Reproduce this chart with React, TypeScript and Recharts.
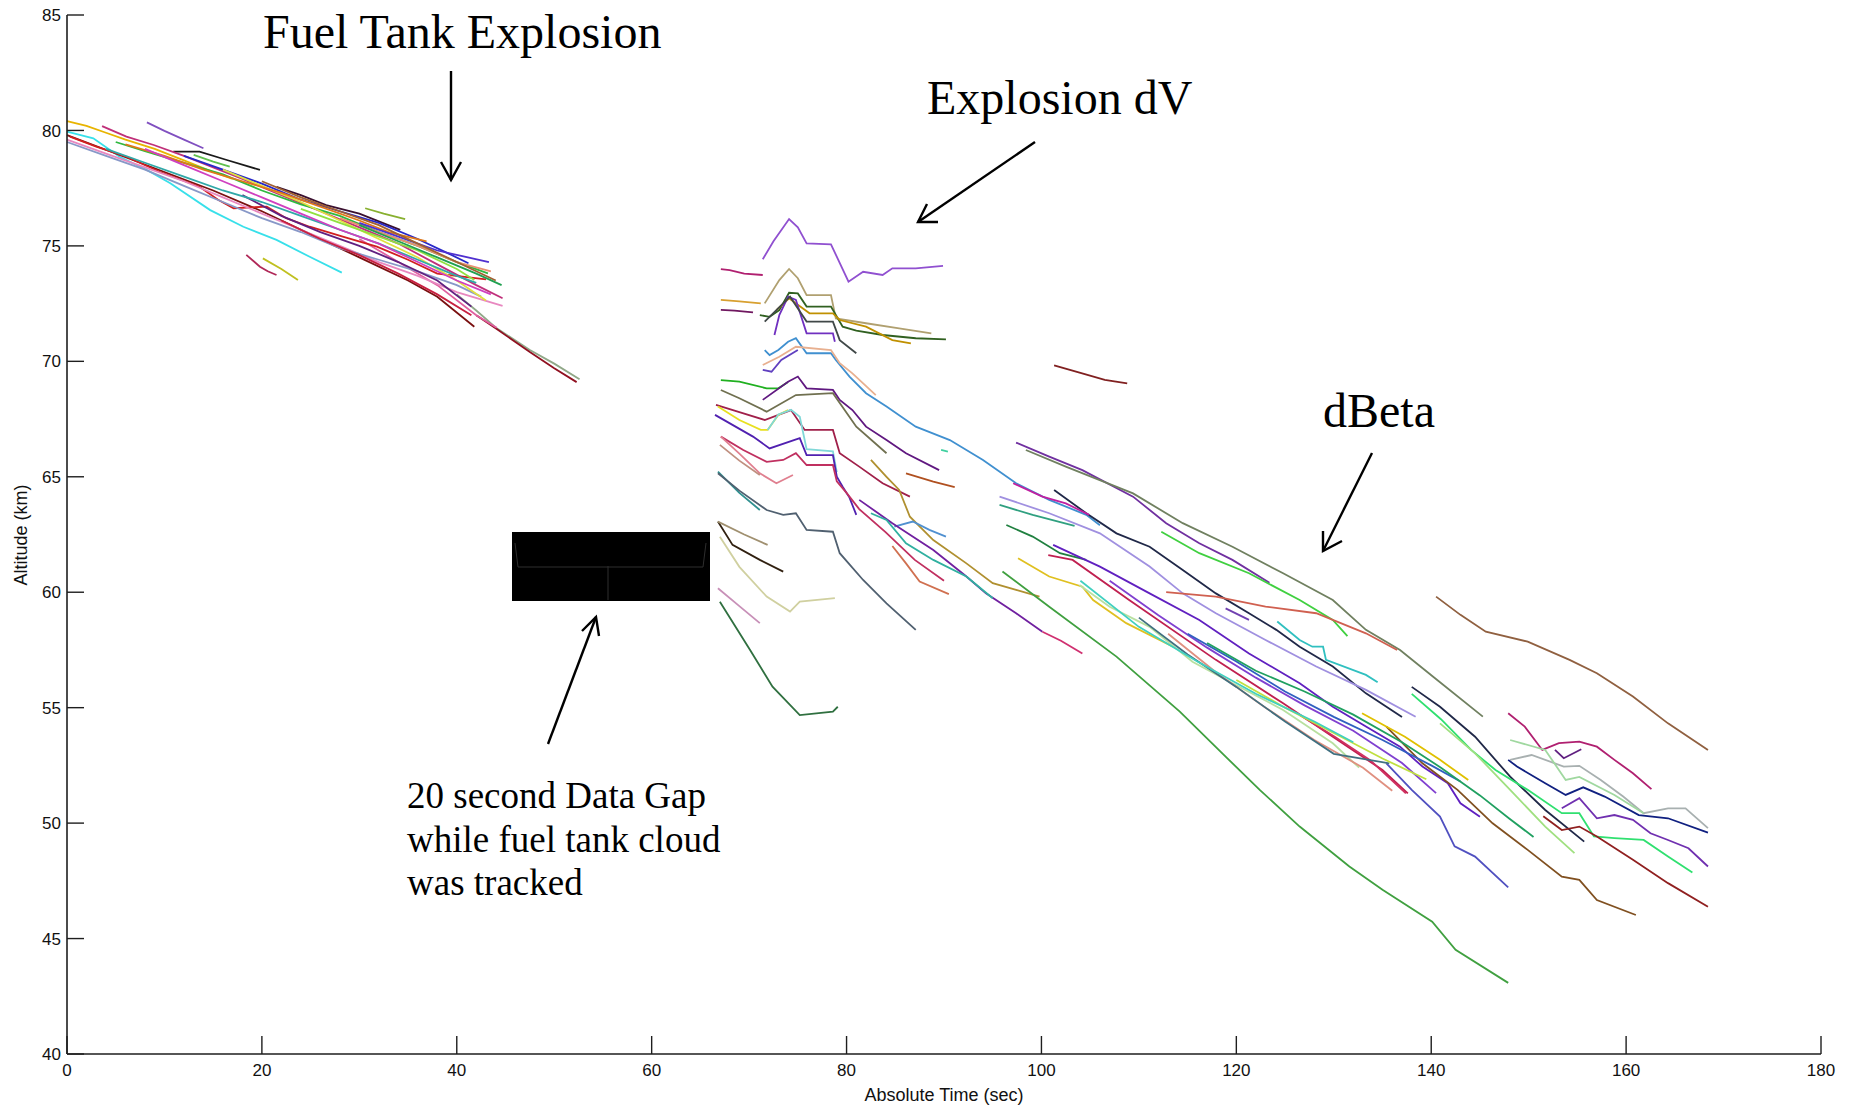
import React from 'react'
import { LineChart, Line, XAxis, YAxis } from 'recharts'

// tick values
const xTicks = [0, 20, 40, 60, 80, 100, 120, 140, 160, 180]
const yTicks = [40, 45, 50, 55, 60, 65, 70, 75, 80, 85]

// tracks before the fuel tank explosion, [time (s), altitude (km)]
const preGapTracks: number[][][] = [
  [[0, 80.4], [2, 80.2], [4, 79.9], [6, 79.6], [9, 79.2], [12, 78.7], [15, 78.2], [17, 77.9]],
  [[0, 79.95], [2.7, 79.66], [5.4, 78.86], [8.2, 78.29], [10.6, 77.71], [14.7, 76.55], [18.1, 75.83], [21.5, 75.26], [24.9, 74.53], [28.2, 73.84]],
  [[0, 79.8], [5, 79.0], [10, 78.2], [15, 77.4], [20, 76.5], [25, 75.5], [30, 74.5], [35, 73.5], [38, 72.8], [41.8, 71.5]],
  [[40, 72.9], [42, 72.2], [44.1, 71.43], [47.5, 70.49], [50, 69.9], [52.6, 69.22]],
  [[42, 72.0], [44.1, 71.4], [47.5, 70.4], [50, 69.7], [52.3, 69.1]],
  [[30, 75.3], [34, 74.3], [38, 73.3], [42, 72.0], [44.1, 71.45]],
  [[8.2, 80.35], [10, 79.98], [12, 79.6], [14.0, 79.23]],
  [[10.9, 79.08], [13.6, 79.08], [16.4, 78.72], [19.8, 78.29]],
  [[13.0, 78.94], [15, 78.65], [16.7, 78.43]],
  [[3.6, 80.19], [6.1, 79.73], [8.9, 79.37], [12, 78.9], [15, 78.4], [18, 77.9], [22, 77.2], [26, 76.5], [30, 75.8], [34, 75.1], [38, 74.2], [42, 73.3], [44.7, 72.73]],
  [[21.5, 77.56], [24, 77.2], [26.6, 76.77], [30, 76.4], [34.2, 75.69]],
  [[30.6, 76.63], [32.5, 76.4], [34.7, 76.16]],
  [[18.4, 74.61], [19.8, 74.1], [20.6, 73.9], [21.5, 73.74]],
  [[20.1, 74.46], [22, 74.0], [23.7, 73.52]],
  [[0.3, 79.73], [3, 79.3], [6.1, 78.86], [9.5, 78.21], [13.6, 77.56], [15.5, 77.0], [17.1, 76.63], [20.5, 76.7], [22.5, 76.2], [24.9, 75.83], [28.3, 75.4], [31.8, 74.97], [35, 74.4], [38, 73.8], [43.0, 73.55]],
  [[12, 78.9], [16, 78.3], [20, 77.7], [24, 77.0], [28, 76.5], [32, 76.0], [36, 75.3], [39, 74.7], [41.2, 74.25]],
  [[5, 79.5], [8, 79.1], [12, 78.6], [16, 78.1], [20, 77.4], [24, 76.8], [28, 76.3], [32, 75.6], [36, 75.0], [40, 74.3], [43.2, 73.81]],
  [[0, 79.6], [4, 79.0], [8, 78.4], [12, 77.8], [16, 77.1], [20, 76.4], [24, 75.7], [28, 75.0], [32, 74.3], [36, 73.7], [40, 73.0], [44.7, 72.4]],
  [[0, 79.5], [4, 78.9], [8, 78.3], [12, 77.6], [16, 76.9], [20, 76.2], [24, 75.6], [28, 74.9], [32, 74.4], [36, 73.9], [40, 73.3], [42.5, 72.8]],
  [[16, 78.3], [20, 77.6], [24, 76.9], [28, 76.1], [32, 75.3], [36, 74.5], [40, 73.5], [43.0, 72.63]],
  [[18, 77.2], [22, 76.3], [26, 75.6], [30, 75.0], [34, 74.3], [38, 73.5], [41.5, 72.37]],
  [[22, 76.1], [26, 75.3], [30, 74.6], [34, 73.8], [38, 72.9], [41.5, 72.0]],
  [[6, 79.4], [10, 78.9], [14, 78.3], [18, 77.8], [22, 77.3], [26, 76.7], [30, 76.1], [33, 75.6], [36.9, 75.2]],
  [[4, 79.2], [8, 78.6], [12, 78.0], [16, 77.4], [20, 76.9], [24, 76.3], [28, 75.7], [32, 75.1], [36, 74.4], [40, 73.7], [42, 73.4]],
  [[8, 79.2], [12, 78.5], [16, 77.8], [20, 77.1], [24, 76.4], [28, 75.7], [32, 75.1], [36, 74.3], [40, 73.5], [43.5, 72.9]],
  [[24, 76.6], [28, 76.0], [32, 75.4], [36, 74.8], [40, 74.0], [41.8, 73.52]],
  [[28, 76.2], [32, 75.6], [36, 75.0], [40, 74.3], [43.5, 73.9]],
  [[30, 76.0], [34, 75.4], [38, 74.8], [43.3, 74.3]],
  [[20, 77.8], [24, 77.1], [28, 76.5], [32, 75.9], [36, 75.1], [40, 74.3], [44, 73.5]],
  [[30, 75.9], [34, 75.2], [38, 74.5], [42, 73.8], [44.6, 73.3]],
]
const preGapColors = [
  '#e8b400', '#38e0ea', '#7a1010', '#90a888', '#901020', '#e060a0', '#8050c0', '#1a1a1a', '#60c050', '#c0307a',
  '#3a1030', '#88b030', '#b02858', '#c0c020', '#d02020', '#2828c8', '#30b840', '#e888c0', '#8898c8', '#e0e040',
  '#602080', '#c82040', '#e07818', '#30a8a8', '#d040c0', '#90e040', '#e89070', '#5030d0', '#a06030', '#20a050',
]

// tracks picked up again after the data gap, around the explosion dV
const explosionTracks: number[][][] = [
  [[71.4, 74.42], [72.5, 75.2], [74.1, 76.16], [75.0, 75.8], [75.9, 75.11], [78.4, 75.07], [80.2, 73.45], [81.7, 73.88], [83.7, 73.74], [84.7, 74.03], [87.1, 74.03], [89.9, 74.13]],
  [[67.1, 73.99], [68, 73.95], [69.5, 73.8], [71.4, 73.74]],
  [[71.6, 72.51], [73.1, 73.52], [74.1, 74.0], [75.0, 73.6], [75.9, 72.87], [78.4, 72.87], [78.9, 71.86], [82.0, 71.65], [85.4, 71.43], [88.7, 71.21]],
  [[67.1, 72.66], [69, 72.6], [71.2, 72.51]],
  [[67.1, 72.23], [68.5, 72.2], [70.4, 72.12]],
  [[71.1, 72.0], [72.1, 71.93], [73.1, 72.22], [74.1, 72.97], [75.0, 72.94], [75.9, 72.37], [78.4, 72.37], [79.6, 71.5], [81.0, 71.33], [83.7, 71.14], [87.1, 71.0], [90.2, 70.95]],
  [[72.8, 72.22], [74.1, 72.73], [76.2, 72.08], [78.6, 72.08], [79.3, 71.79], [82.0, 71.5], [84.7, 70.92], [86.6, 70.78]],
  [[72.6, 71.14], [73.1, 72.0], [74.0, 72.8], [74.8, 72.66], [75.9, 71.21], [78.6, 71.21], [78.8, 70.85]],
  [[71.6, 71.72], [74.2, 72.8], [75.9, 71.72], [78.6, 71.72], [79.3, 70.92], [81.0, 70.35]],
  [[71.6, 70.49], [72.1, 70.27], [73.0, 70.49], [74.0, 70.85], [74.8, 71.0], [75.9, 70.35], [78.4, 70.35], [78.9, 70.06], [80.3, 69.34], [82.0, 68.62], [84.1, 68.04], [87.1, 67.17], [90.6, 66.59], [94.0, 65.73], [97.4, 64.72], [100.8, 64.0], [104.6, 63.35], [106, 62.9]],
  [[71.4, 69.84], [73.1, 70.2], [74.8, 70.63], [78.4, 70.49], [79.3, 69.92], [80.6, 69.48], [83.0, 68.54]],
  [[71.4, 69.63], [72.3, 69.55], [73.3, 70.06], [75.0, 70.49]],
  [[67.1, 69.19], [69.0, 69.12], [71.8, 68.83], [73.0, 68.83], [74.0, 69.1]],
  [[71.4, 68.33], [74.0, 69.12], [75.0, 69.34], [75.9, 68.83], [78.6, 68.76], [79.3, 68.33], [80.6, 67.89], [82.0, 67.17], [84.1, 66.59], [86.1, 66.02], [89.5, 65.29]],
  [[67.1, 68.76], [69.0, 68.4], [71.8, 67.82], [74.8, 68.54], [78.6, 68.62], [81.0, 67.17], [84.1, 66.02]],
  [[66.6, 68.11], [69, 67.8], [71.6, 67.46], [74.3, 67.89], [75.7, 67.03], [78.6, 67.03], [79.3, 66.02], [81.3, 65.44], [83.7, 64.72], [86.5, 64.14]],
  [[66.8, 68.04], [69.0, 67.46], [71.2, 67.03], [71.9, 67.03], [73.0, 67.68], [74.0, 67.89]],
  [[71.9, 67.03], [73.0, 67.7], [74.3, 67.9], [75.2, 67.6], [75.9, 66.2], [78.6, 66.1], [79.0, 65.2]],
  [[66.5, 67.68], [70.4, 66.74], [72.1, 66.23], [75.2, 66.67], [75.9, 65.94], [78.6, 65.94], [79.0, 65.0], [79.6, 64.57], [80.3, 64.1], [81.0, 63.35]],
  [[67.1, 66.74], [69.4, 66.16], [71.8, 65.65], [73.5, 65.73], [74.8, 66.02], [75.9, 65.51], [78.6, 65.51], [79.0, 64.8], [80, 64.3], [81.3, 63.6], [84, 62.6], [87, 61.4], [90, 60.5]],
  [[67.1, 66.74], [69, 66.0], [71.1, 65.15], [72.8, 64.72], [74.5, 65.08]],
  [[67.0, 66.38], [69, 65.7], [71.1, 65.08]],
  [[66.8, 65.22], [69, 64.3], [71.1, 63.56]],
  [[66.8, 65.15], [69, 64.4], [71.8, 63.56], [73.5, 63.35], [74.8, 63.42], [75.9, 62.7], [78.6, 62.62], [79.3, 61.69], [81.7, 60.53], [84.1, 59.52], [87.1, 58.37]],
  [[66.8, 63.06], [68.3, 62.05], [71.1, 61.4], [73.5, 60.89]],
  [[66.8, 63.06], [69.5, 62.5], [71.9, 62.05]],
  [[67.0, 62.4], [69.0, 61.1], [71.8, 59.81], [74.2, 59.16], [75.2, 59.59], [78.8, 59.74]],
  [[66.8, 60.17], [69, 59.4], [71.1, 58.66]],
  [[67.0, 59.59], [70.1, 57.5], [72.4, 55.91], [75.2, 54.68], [78.6, 54.83], [79.1, 55.04]],
  [[86.1, 65.15], [88.9, 64.79], [91.1, 64.55]],
  [[82.5, 65.73], [84.1, 65.0], [85.4, 64.43], [86.5, 63.27], [88.9, 62.26], [92.3, 61.25], [95.0, 60.39], [97.4, 60.1], [99.8, 59.81]],
  [[84.9, 62.84], [86.8, 63.06], [88.5, 62.7], [90.2, 62.41]],
  [[81.3, 64.0], [84.7, 62.99], [88.9, 61.83], [92.3, 60.68], [94.3, 59.95], [97.4, 59.09], [100.1, 58.29]],
  [[100.1, 58.29], [102, 57.9], [104.2, 57.35]],
  [[82.5, 63.42], [84.1, 63.13], [86.1, 62.12], [88.9, 61.4], [92.3, 60.68], [95.0, 59.74]],
  [[84.7, 62.0], [86.1, 61.25], [87.5, 60.46], [90.5, 59.92]],
  [[89.7, 66.16], [90.4, 66.09]],
  [[101.3, 69.82], [104, 69.5], [106.5, 69.2], [108.8, 69.05]],
]
const explosionColors = [
  '#9050d0', '#b02070', '#b0a070', '#d8a030', '#701860', '#306020', '#c09000', '#7030c0', '#404848', '#4090d0',
  '#e8b090', '#6040c0', '#20b020', '#601880', '#707050', '#a0204a', '#e8e020', '#80d8d8', '#5020b0', '#c03060',
  '#e08090', '#c09080', '#309090', '#506070', '#302010', '#a09070', '#d0d0a0', '#c890b8', '#307040', '#b05020',
  '#b09030', '#5090d0', '#7020a0', '#d03070', '#30b0a0', '#d07050', '#40d0a0', '#802020',
]

// later descent tracks (dBeta)
const descentTracks: number[][][] = [
  [[97.4, 66.48], [100.8, 65.87], [104.2, 65.29], [109.4, 64.14], [112.8, 62.99], [116.2, 62.12], [119.6, 61.4], [123.4, 60.41]],
  [[98.4, 66.16], [102.5, 65.44], [109.4, 64.28], [114.5, 62.99], [119.6, 61.97], [124.8, 60.82], [129.9, 59.66], [133.3, 58.37], [136.8, 57.5], [140.2, 56.34], [145.3, 54.61]],
  [[101.3, 64.43], [104.6, 63.42], [107.7, 62.55], [111.1, 61.97], [114.5, 60.96], [117.9, 59.95], [121.3, 59.09], [124.1, 58.37], [126.5, 57.64], [129.9, 56.78], [133.3, 55.62], [137, 54.6]],
  [[138, 55.9], [140.9, 55.04], [144.5, 53.74], [148.1, 52.01], [151.7, 50.57], [155.7, 49.2]],
  [[97.1, 64.72], [100.1, 64.14], [102.5, 63.85], [104.9, 63.35]],
  [[95.7, 64.14], [100.8, 63.42], [106.0, 62.55], [111.1, 61.11], [114.5, 59.95], [117.9, 59.09], [123.0, 57.93], [128.2, 56.78], [133.3, 55.77], [138.4, 54.61]],
  [[95.7, 63.78], [99.1, 63.35], [103.4, 62.87]],
  [[96.4, 62.91], [99.1, 62.41], [101.9, 61.69], [104.6, 61.4]],
  [[101.2, 62.05], [106.0, 61.11], [111.1, 59.95], [116.2, 58.8], [121.3, 57.35], [126.5, 56.06], [129.9, 55.04], [133.3, 54.18], [136.8, 53.31], [139.1, 52.45], [141.7, 51.73], [143.0, 50.86], [145.0, 50.28]],
  [[100.7, 61.61], [103.2, 61.4], [109.0, 59.66], [117.9, 57.07], [124.8, 55.19], [129.9, 53.74], [135.0, 52.3], [137.6, 51.29]],
  [[135.4, 52.59], [138.0, 51.44], [140.9, 50.28], [142.4, 48.99], [144.5, 48.55], [147.9, 47.22]],
  [[97.6, 61.47], [100.8, 60.68], [104.2, 60.24], [105.3, 59.66], [108.7, 58.66], [113.5, 57.64]],
  [[96.0, 60.9], [100.8, 59.37], [107.7, 57.21], [114.2, 54.83], [118.9, 52.88], [122.4, 51.44], [126.5, 49.85], [131.6, 48.12], [135.0, 47.11], [140.1, 45.73], [142.5, 44.51], [147.9, 43.08]],
  [[103.9, 60.31], [107.0, 59.37], [111.1, 58.5], [115.5, 56.99], [119.6, 56.06], [124.8, 54.9], [129.9, 53.46], [132.6, 52.4]],
  [[112.3, 62.62], [116.2, 61.69], [121.3, 60.82], [126.5, 59.66], [129.9, 58.8], [131.4, 58.1]],
  [[112.8, 60.0], [117.9, 59.81], [123.0, 59.38], [128.2, 59.09], [133.3, 58.22], [136.5, 57.5]],
  [[118.9, 59.3], [121.3, 58.8]],
  [[124.2, 58.73], [126.5, 57.93], [127.8, 57.64], [128.9, 57.64], [129.2, 57.07], [133.3, 56.42], [134.5, 56.1]],
  [[140.5, 59.81], [143.0, 59.02], [145.6, 58.29], [149.9, 57.86], [154.2, 57.07], [157.0, 56.49], [160.7, 55.48], [164.3, 54.32], [168.4, 53.17]],
  [[147.9, 54.76], [149.6, 54.18], [151.4, 53.17], [153.1, 53.46], [155.2, 53.53], [157.0, 53.31], [158.8, 52.74], [160.7, 52.16], [162.6, 51.47]],
  [[152.7, 53.17], [153.6, 52.81], [155.4, 53.2]],
  [[148.1, 52.74], [150.3, 52.95], [153.6, 52.45], [155.2, 52.48], [157.4, 51.87], [159.7, 51.15], [161.8, 50.43], [164.3, 50.64], [166.1, 50.64], [168.4, 49.78]],
  [[148.1, 53.6], [151.7, 53.17], [153.8, 51.87], [155.2, 52.0], [158.8, 51.22], [161.8, 50.43]],
  [[147.9, 52.74], [148.8, 52.45], [151.7, 51.73], [153.8, 51.22], [155.6, 51.55], [157.8, 51.15], [161.3, 50.35], [164.3, 50.21], [168.4, 49.59]],
  [[153.4, 50.64], [155.2, 51.08], [157.0, 50.21], [158.8, 50.35], [160.7, 50.14], [162.5, 49.56], [164.3, 49.27], [166.4, 48.91], [168.4, 48.12]],
  [[138, 55.6], [141, 54.5], [144.1, 53.17], [146.6, 52.3], [149.9, 51.44], [153.4, 50.43], [155.2, 50.43], [156.7, 49.42], [158.8, 49.35], [161.8, 49.27], [164.3, 48.55], [166.8, 47.86]],
  [[151.5, 50.3], [153.4, 49.7], [155.2, 49.85], [157.0, 49.42], [160.7, 48.41], [164.3, 47.4], [168.4, 46.38]],
  [[140.9, 54.32], [144.5, 53.02], [148.1, 51.44], [151.7, 49.85], [154.7, 48.7]],
  [[135.4, 54.18], [139.1, 52.59], [142.7, 51.44], [146.3, 49.99], [149.9, 48.84], [153.4, 47.68], [155.2, 47.54], [157.0, 46.67], [161.0, 46.02]],
  [[126.5, 54.68], [130.1, 53.74], [133.7, 52.74], [137.4, 51.29]],
  [[132.9, 54.76], [137.3, 53.74], [140.9, 52.74], [143.8, 51.87]],
  [[113, 58.2], [118, 56.5], [123, 55.0], [128, 53.6], [133, 52.4], [136, 51.4]],
  [[110, 58.9], [115, 57.3], [120, 55.9], [125, 54.4], [130, 53.0], [135.7, 52.59]],
  [[107, 60.5], [112, 59.0], [117, 57.6], [122, 56.3], [127, 55.1], [132, 54.0], [137, 52.6], [140.5, 51.3]],
  [[115, 58.2], [120, 57.0], [125, 55.7], [130, 54.6], [135, 53.6], [140, 52.5], [143, 51.8]],
  [[117, 57.8], [122, 56.6], [127, 55.7], [132, 54.7], [137, 53.5], [141, 52.4], [145, 51.2], [148, 50.2], [150.5, 49.4]],
  [[120, 56.2], [125, 55.0], [130, 53.9], [135, 52.8], [139.5, 51.9]],
  [[104, 60.5], [110, 58.5], [116, 57.0], [122, 55.6], [128, 54.4], [132, 53.5]],
]
const descentColors = [
  '#7030a0', '#708060', '#202848', '#202848', '#c020a0', '#a090e0', '#30a080', '#208040', '#6020c0', '#c02050',
  '#5050c0', '#e0c020', '#40a040', '#b8e0a0', '#40d040', '#d06050', '#7040b0', '#30c0c0', '#906040', '#b02070',
  '#602080', '#a8b0b0', '#a0d8a0', '#102080', '#7030b0', '#30e070', '#902020', '#a0e080', '#805020', '#d03060',
  '#e0c000', '#e09080', '#407080', '#8040d0', '#3060c0', '#20a060', '#c0e040', '#40d0c0',
]

const AXIS = '#1e1e1e'
const SANS = '"Liberation Sans", Arial, sans-serif'
const SERIF = '"Liberation Serif", "Times New Roman", serif'

const toPoints = (track: number[][]) => track.map(([x, y]) => ({ x, y }))

// matlab style ticks: drawn inwards from the axis line
const XTick = (props: any) => {
  const { x, y, payload } = props
  return (
    <g>
      <line x1={x} x2={x} y1={y} y2={y - 18} stroke={AXIS} strokeWidth={1.4} />
      <text x={x} y={y + 22} textAnchor="middle" fontFamily={SANS} fontSize={17} fill="#111">
        {payload.value}
      </text>
    </g>
  )
}

const YTick = (props: any) => {
  const { x, y, payload } = props
  return (
    <g>
      <line x1={x} x2={x + 17} y1={y} y2={y} stroke={AXIS} strokeWidth={1.4} />
      <text x={x - 6} y={y} dy="0.36em" textAnchor="end" fontFamily={SANS} fontSize={17} fill="#111">
        {payload.value}
      </text>
    </g>
  )
}

function Annotations() {
  const arrow = { stroke: '#000', strokeWidth: 2.4, fill: 'none' }
  return (
    <svg width={1851} height={1108} style={{ position: 'absolute', left: 0, top: 0, pointerEvents: 'none' }}>
      <text x={263} y={48} fontFamily={SERIF} fontSize={48} fill="#000">Fuel Tank Explosion</text>
      <line x1={451} y1={71} x2={451} y2={180} {...arrow} />
      <polyline points="441,162 451,180 461,162" {...arrow} />

      <text x={927} y={114} fontFamily={SERIF} fontSize={48} fill="#000">Explosion dV</text>
      <line x1={1035} y1={142} x2={918} y2={222} {...arrow} />
      <polyline points="938,222 918,222 927,204" {...arrow} />

      <text x={1323} y={427} fontFamily={SERIF} fontSize={48} fill="#000">dBeta</text>
      <line x1={1372} y1={453} x2={1323} y2={551} {...arrow} />
      <polyline points="1342,541 1323,551 1323,531" {...arrow} />

      <rect x={512} y={532} width={198} height={69} fill="#000" />
      <polyline points="515,543 518,567 703,567 706,543" stroke="#2e2e2e" strokeWidth={1} fill="none" />
      <line x1={608} y1={566} x2={608} y2={600} stroke="#2e2e2e" strokeWidth={1} />

      <line x1={548} y1={744} x2={596} y2={617} {...arrow} />
      <polyline points="582,631 596,617 599,636" {...arrow} />
      <text fontFamily={SERIF} fontSize={37} fill="#000">
        <tspan x={407} y={808}>20 second Data Gap</tspan>
        <tspan x={407} y={852}>while fuel tank cloud</tspan>
        <tspan x={407} y={895}>was tracked</tspan>
      </text>

      <text x={944} y={1101} textAnchor="middle" fontFamily={SANS} fontSize={18} fill="#111">Absolute Time (sec)</text>
      <text x={27} y={535} textAnchor="middle" fontFamily={SANS} fontSize={18} fill="#111" transform="rotate(-90 27 535)">
        Altitude (km)
      </text>
    </svg>
  )
}

export default function App() {
  const groups = [
    { name: 'pre', tracks: preGapTracks, colors: preGapColors },
    { name: 'exp', tracks: explosionTracks, colors: explosionColors },
    { name: 'des', tracks: descentTracks, colors: descentColors },
  ]
  return (
    <div style={{ position: 'absolute', left: 0, top: 0, width: 1851, height: 1108, background: '#fff' }}>
      <LineChart width={1851} height={1108} margin={{ top: 15, right: 30, bottom: 14, left: 7 }}>
        <XAxis
          dataKey="x"
          type="number"
          domain={[0, 180]}
          ticks={xTicks}
          interval={0}
          height={40}
          tickSize={0}
          tickMargin={0}
          tickLine={false}
          axisLine={{ stroke: AXIS, strokeWidth: 1.6 }}
          tick={<XTick />}
        />
        <YAxis
          type="number"
          domain={[40, 85]}
          ticks={yTicks}
          interval={0}
          width={60}
          tickSize={0}
          tickMargin={0}
          tickLine={false}
          axisLine={{ stroke: AXIS, strokeWidth: 1.6 }}
          tick={<YTick />}
        />
        {groups.map((g) =>
          g.tracks.map((t, i) => (
            <Line
              key={`${g.name}-${i}`}
              data={toPoints(t)}
              dataKey="y"
              type="linear"
              stroke={g.colors[i % g.colors.length]}
              strokeWidth={1.8}
              dot={false}
              activeDot={false}
              isAnimationActive={false}
            />
          ))
        )}
      </LineChart>
      <Annotations />
    </div>
  )
}
